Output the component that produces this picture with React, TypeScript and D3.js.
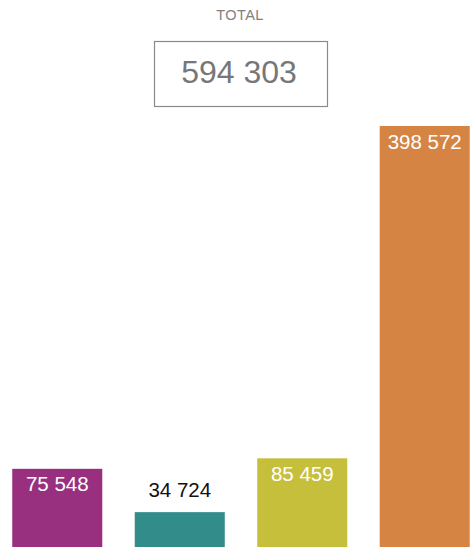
import React from "react";
import * as d3 from "d3";

const categories = ["A", "B", "C", "D"];
const values = [75548, 34724, 85459, 398572];
const colors = ["#98307f", "#318c8a", "#c6bf3c", "#d58443"];
const totalLabel = "TOTAL";

const W = 475;
const H = 547;
const fmt = (v: number) => d3.format(",")(v).replace(/,/g, " ");

export default function App() {
  const total = d3.sum(values);
  const x = d3.scaleBand().domain(categories).range([0, 482]).paddingInner(0.265).paddingOuter(0.1);
  const baseline = 549;
  const y = d3.scaleLinear().domain([0, 398572]).range([baseline, 126]);
  return (
    <div style={{ position: "fixed", left: 0, top: 0 }}>
      <svg width={W} height={H} style={{ display: "block", fontFamily: "'Liberation Sans', Arial, sans-serif" }}>
        <rect width={W} height={H} fill="#fff" />
        <text x={240} y={19.5} textAnchor="middle" fontSize={14.5} letterSpacing={0.4} fill="#808080">{totalLabel}</text>
        <rect x={154.5} y={41.5} width={173} height={65} fill="none" stroke="#8a8a8a" strokeWidth={1.2} />
        <text x={239} y={83} textAnchor="middle" fontSize={32} fill="#777">{fmt(total)}</text>
        {categories.map((c, i) => {
          const top = y(values[i]);
          const h = baseline - top;
          const inside = h > 60;
          const cx = (x(c) as number) + x.bandwidth() / 2;
          return (
            <g key={c}>
              <rect x={x(c)} y={top} width={x.bandwidth()} height={h} fill={colors[i]} />
              <text x={cx} y={inside ? top + 22.5 : top - 15} textAnchor="middle" fontSize={20.5} fill={inside ? "#fff" : "#111"}>
                {fmt(values[i])}
              </text>
            </g>
          );
        })}
      </svg>
    </div>
  );
}
